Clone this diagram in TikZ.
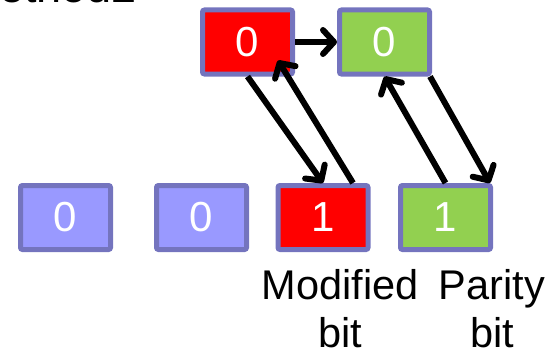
\documentclass[tikz,border=0pt]{standalone}
\usepackage{fontspec}
\setmainfont{Liberation Sans}
\usetikzlibrary{arrows.meta,positioning}
\definecolor{bitedge}{RGB}{116,116,190}
\definecolor{bitred}{RGB}{255,0,0}
\definecolor{bitgreen}{RGB}{146,208,80}
\definecolor{bitblue}{RGB}{153,153,255}

\begin{document}
\begin{tikzpicture}[x=1pt,y=-1pt]
  \tikzset{bitbox/.style={draw=bitedge,line width=5pt,rounded corners=2pt,minimum width=90pt,minimum height=64pt,
      inner sep=0pt,text=white,font=\fontsize{42}{50}\selectfont},
    flip/.style={-{Straight Barb[length=11pt,width=24pt,line cap=round,line join=round]},line width=6pt},
    lbl/.style={align=center,inner sep=0pt,font=\fontsize{41.5}{48}\selectfont}}
  \useasboundingbox (0,0) rectangle (551,353);
  \node[anchor=base east,inner sep=0pt,font=\fontsize{45}{54}\selectfont] (title) at (137,3) {Method2};
  \node[bitbox,fill=bitred] (topMod) at (247.5,42) {0};
  \node[bitbox,fill=bitgreen] (topPar) at (384.5,42) {0};
  \node[bitbox,fill=bitblue] (bitA) at (65.5,217.5) {0};
  \node[bitbox,fill=bitblue] (bitB) at (201.5,217.5) {0};
  \node[bitbox,fill=bitred] (botMod) at (323,217.5) {1};
  \node[bitbox,fill=bitgreen] (botPar) at (445.5,217.5) {1};
  \node[lbl,anchor=north] (modLbl) at (340,269) {Modified\\bit};
  \node[lbl,anchor=north] (parLbl) at (492,269) {Parity\\bit};
  \draw[flip] (topMod.east) -- (topPar.west);
  \draw[flip] (topMod.south) -- (botMod.north);
  \draw[flip] ([xshift=30pt]botMod.north) -- ([xshift=30.5pt,yshift=16pt]topMod.south);
  \draw[flip] (botPar.north) -- (topPar.south);
  \draw[flip] ([xshift=-2pt]topPar.south east) -- ([xshift=-3pt]botPar.north east);
\end{tikzpicture}
\end{document}
